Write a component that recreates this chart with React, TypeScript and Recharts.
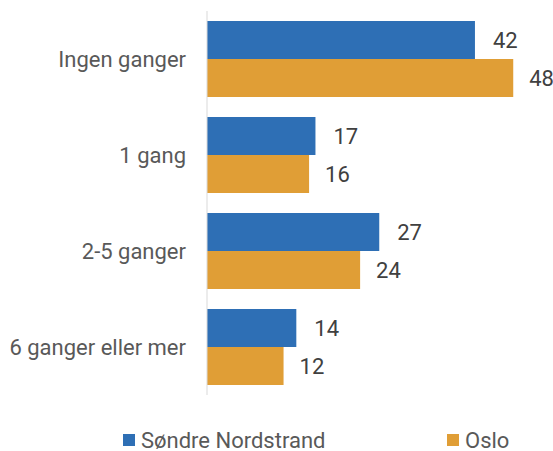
import React from "react";
import { BarChart, Bar, XAxis, YAxis, Legend, LabelList } from "recharts";

const categories = ["Ingen ganger", "1 gang", "2-5 ganger", "6 ganger eller mer"];
const sondreNordstrand = [42, 17, 27, 14];
const oslo = [48, 16, 24, 12];
const seriesNames = ["Søndre Nordstrand", "Oslo"];

const BLUE = "#2e6fb5";
const ORANGE = "#e09e36";
const FONT = "Roboto, sans-serif";
const FONT_SIZE = 22;

const data = categories.map((name, i) => ({
  name,
  sondre: sondreNordstrand[i],
  oslo: oslo[i],
}));

const LegendContent = () => (
  <div style={{ position: "relative", width: 545, height: 55, fontFamily: FONT }}>
    {[
      { label: seriesNames[0], color: BLUE, left: 115 },
      { label: seriesNames[1], color: ORANGE, left: 439 },
    ].map((item) => (
      <div
        key={item.label}
        style={{
          position: "absolute",
          left: item.left,
          top: 35,
          height: 20,
          display: "flex",
          alignItems: "center",
          fontSize: FONT_SIZE,
          color: "#595959",
          whiteSpace: "nowrap",
        }}
      >
        <span style={{ width: 12, height: 12, background: item.color, marginRight: 6, display: "inline-block" }} />
        {item.label}
      </div>
    ))}
  </div>
);

export default function App() {
  return (
    <div style={{ position: "absolute", left: 8, top: 8, width: 545, height: 443 }}>
      <BarChart
        width={545}
        height={443}
        data={data}
        layout="vertical"
        margin={{ top: 3, right: 27, left: 0, bottom: 1 }}
        barCategoryGap={10}
        barGap={0}
      >
        <XAxis type="number" domain={[0, 50]} hide />
        <YAxis
          type="category"
          dataKey="name"
          width={199}
          axisLine={{ stroke: "#d9d9d9" }}
          tickLine={false}
          tickSize={0}
          tickMargin={21}
          tick={{ fontSize: FONT_SIZE, fill: "#595959", fontFamily: FONT }}
        />
        <Legend
          verticalAlign="bottom"
          wrapperStyle={{ left: 0, width: 545 }}
          content={() => <LegendContent />}
        />
        <Bar dataKey="sondre" name={seriesNames[0]} fill={BLUE} isAnimationActive={false}>
          <LabelList dataKey="sondre" position="right" offset={18} style={{ fontSize: FONT_SIZE, fill: "#404040", fontFamily: FONT }} />
        </Bar>
        <Bar dataKey="oslo" name={seriesNames[1]} fill={ORANGE} isAnimationActive={false}>
          <LabelList dataKey="oslo" position="right" offset={16} style={{ fontSize: FONT_SIZE, fill: "#404040", fontFamily: FONT }} />
        </Bar>
      </BarChart>
    </div>
  );
}
